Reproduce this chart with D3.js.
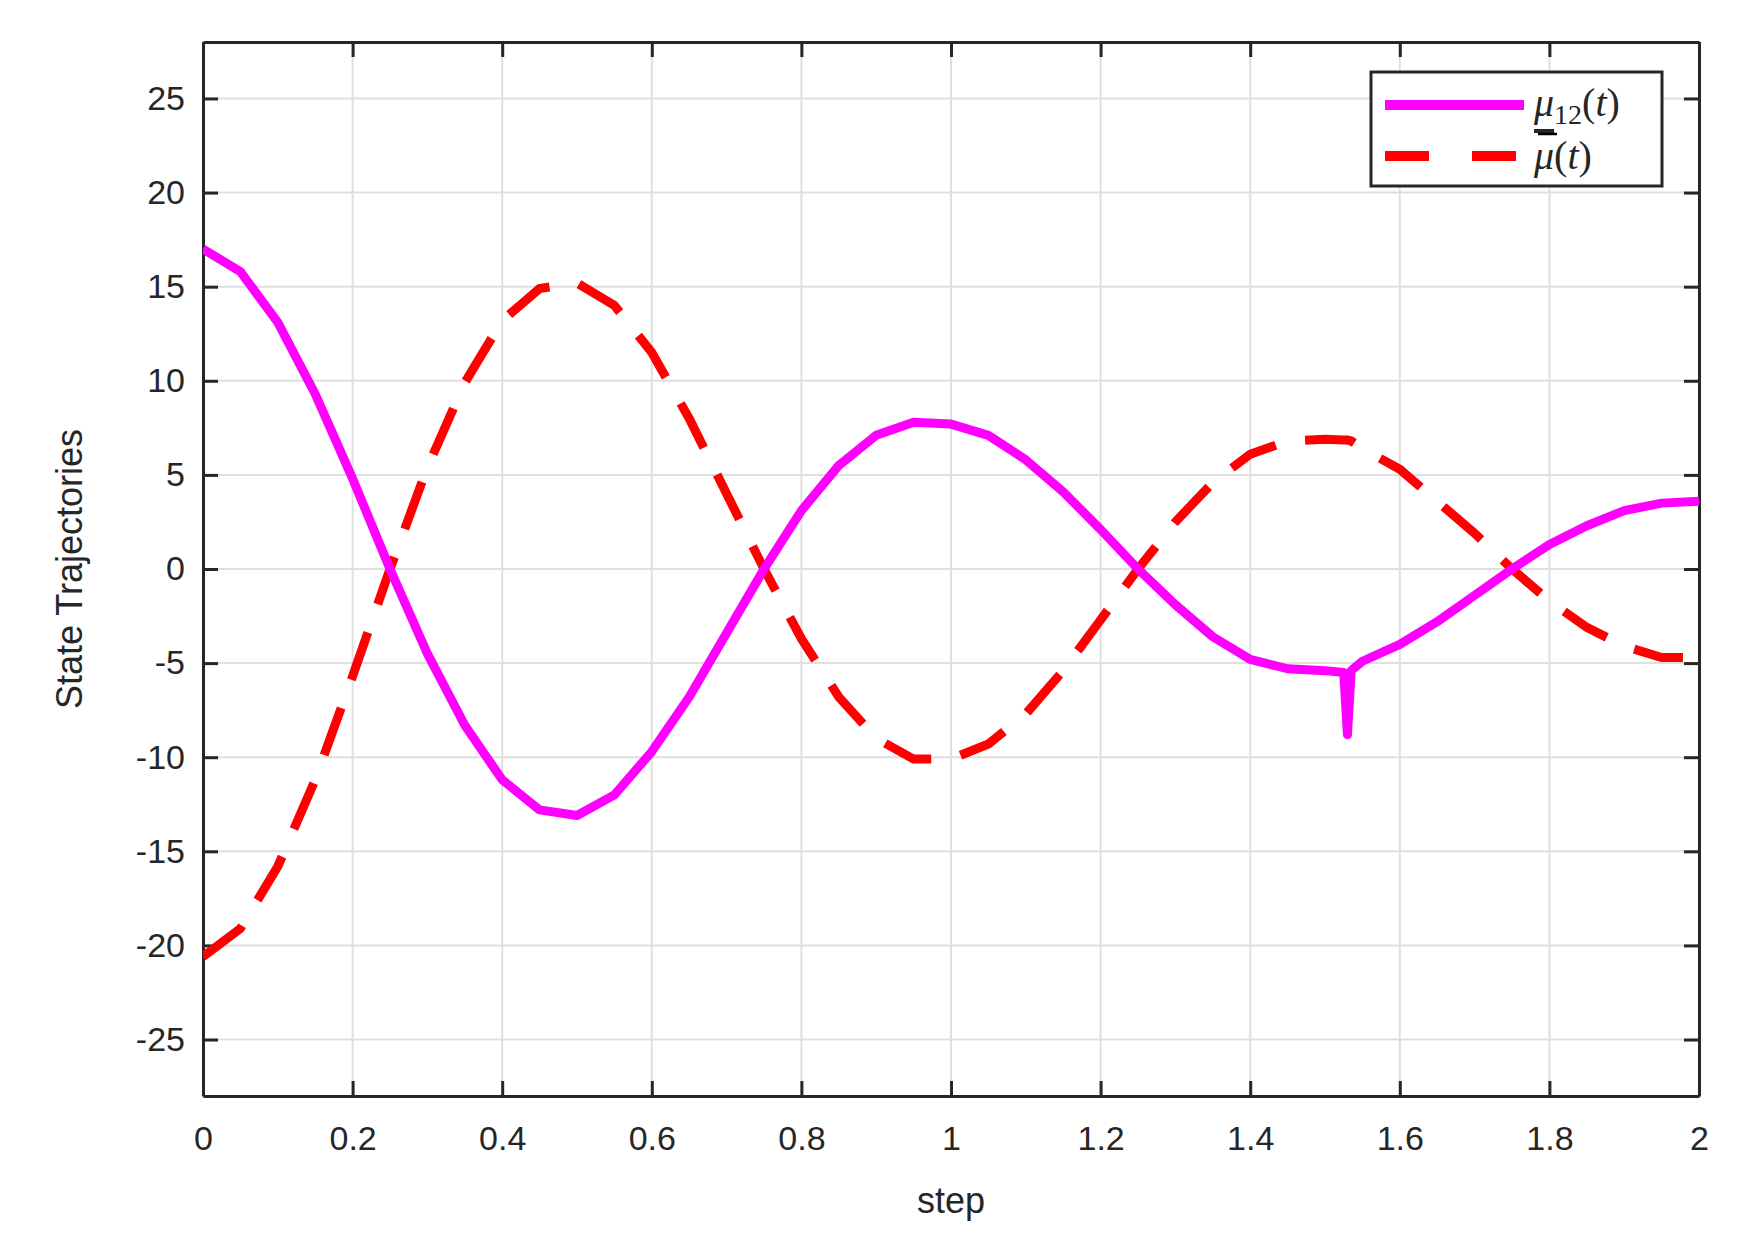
<!DOCTYPE html>
<html>
<head>
<meta charset="utf-8">
<script src="https://cdn.jsdelivr.net/npm/d3@7"></script>
<style>
  body { margin: 0; background: #fff; }
  text { font-family: "Liberation Sans", Arial, sans-serif; fill: #262626; }
</style>
</head>
<body>
<svg id="chart" width="1739" height="1252"></svg>
<script>
const steps = [0, 0.05, 0.1, 0.15, 0.2, 0.25, 0.3, 0.35, 0.4, 0.45, 0.5, 0.55, 0.6, 0.65, 0.7, 0.75,
  0.8, 0.85, 0.9, 0.95, 1.0, 1.05, 1.1, 1.15, 1.2, 1.25, 1.3, 1.35, 1.4, 1.45, 1.5, 1.525, 1.53, 1.535,
  1.55, 1.6, 1.65, 1.7, 1.75, 1.8, 1.85, 1.9, 1.95, 2.0];

const mu12 = [17.0, 15.8, 13.1, 9.3, 4.8, 0, -4.5, -8.3, -11.2, -12.8, -13.1, -12.0, -9.7, -6.8, -3.4, 0,
  3.1, 5.5, 7.1, 7.8, 7.7, 7.1, 5.8, 4.1, 2.1, 0, -1.9, -3.6, -4.8, -5.3, -5.4, -5.5, -8.8, -5.4,
  -4.9, -4.0, -2.8, -1.4, 0, 1.3, 2.3, 3.1, 3.5, 3.6];

const muBar = [-20.6, -19.1, -15.8, -11.2, -5.7, 0, 5.4, 9.9, 13.2, 14.9, 15.2, 14.0, 11.5, 8.0, 4.0, 0,
  -3.7, -6.8, -9.0, -10.1, -10.1, -9.3, -7.7, -5.4, -2.7, 0, 2.5, 4.6, 6.1, 6.8, 6.9, 6.85, 6.85, 6.8,
  6.4, 5.3, 3.6, 1.9, 0, -1.7, -3.1, -4.1, -4.7, -4.7];

const xTicks = [0, 0.2, 0.4, 0.6, 0.8, 1, 1.2, 1.4, 1.6, 1.8, 2];
const yTicks = [-25, -20, -15, -10, -5, 0, 5, 10, 15, 20, 25];

const svg = d3.select('#chart');
const m = { left: 203, right: 1699, top: 42, bottom: 1096 };

const x = d3.scaleLinear().domain([0, 2]).range([m.left, m.right]);
const y = d3.scaleLinear().domain([-28, 28]).range([m.bottom, m.top]);

// grid
const grid = svg.append('g');
grid.selectAll('.gx').data(xTicks).enter().append('line')
  .attr('x1', d => x(d)).attr('x2', d => x(d))
  .attr('y1', m.top).attr('y2', m.bottom)
  .attr('stroke', '#dfdfdf').attr('stroke-width', 2);
grid.selectAll('.gy').data(yTicks).enter().append('line')
  .attr('y1', d => y(d)).attr('y2', d => y(d))
  .attr('x1', m.left).attr('x2', m.right)
  .attr('stroke', '#dfdfdf').attr('stroke-width', 2);

// axes
const tickLen = 15;
const xAxis = svg.append('g').attr('transform', `translate(0,${m.bottom})`)
  .call(d3.axisBottom(x).tickValues(xTicks).tickFormat(d3.format('')).tickSizeInner(-tickLen).tickSizeOuter(0).tickPadding(30));
const xTop = svg.append('g').attr('transform', `translate(0,${m.top})`)
  .call(d3.axisTop(x).tickValues(xTicks).tickFormat('').tickSizeInner(-tickLen).tickSizeOuter(0));
const yAxis = svg.append('g').attr('transform', `translate(${m.left},0)`)
  .call(d3.axisLeft(y).tickValues(yTicks).tickSizeInner(-tickLen).tickSizeOuter(0).tickPadding(18));
const yRight = svg.append('g').attr('transform', `translate(${m.right},0)`)
  .call(d3.axisRight(y).tickValues(yTicks).tickFormat('').tickSizeInner(-tickLen).tickSizeOuter(0));

[xAxis, xTop, yAxis, yRight].forEach(a => {
  a.selectAll('path').attr('stroke', '#262626').attr('stroke-width', 3);
  a.selectAll('line').attr('stroke', '#262626').attr('stroke-width', 3);
  a.selectAll('text').style('font-size', '34px').attr('fill', '#262626')
    .style('font-family', '"Liberation Sans", Arial, sans-serif');
});
yAxis.selectAll('text').text(d => d < 0 ? '-' + Math.abs(d) : d);

// lines
const line = d3.line().x(d => x(d[0])).y(d => y(d[1]));
const clip = svg.append('clipPath').attr('id', 'clip').append('rect')
  .attr('x', m.left).attr('y', m.top).attr('width', m.right - m.left).attr('height', m.bottom - m.top);

svg.append('path').datum(steps.map((s, i) => [s, muBar[i]]))
  .attr('clip-path', 'url(#clip)')
  .attr('d', line).attr('fill', 'none').attr('stroke', '#ff0000')
  .attr('stroke-width', 9).attr('stroke-dasharray', '50,30');

svg.append('path').datum(steps.map((s, i) => [s, mu12[i]]))
  .attr('clip-path', 'url(#clip)')
  .attr('d', line).attr('fill', 'none').attr('stroke', '#ff00ff')
  .attr('stroke-width', 9).attr('stroke-linejoin', 'round');

// labels
svg.append('text').attr('x', (m.left + m.right) / 2).attr('y', 1213)
  .attr('text-anchor', 'middle').style('font-size', '36px').text('step');
svg.append('text').attr('transform', `translate(82,${(m.top + m.bottom) / 2}) rotate(-90)`)
  .attr('text-anchor', 'middle').style('font-size', '36px').text('State Trajectories');

// legend
const lg = svg.append('g').attr('transform', 'translate(1371,72)');
lg.append('rect').attr('width', 291).attr('height', 114)
  .attr('fill', '#fff').attr('stroke', '#262626').attr('stroke-width', 3);
lg.append('line').attr('x1', 14).attr('x2', 153).attr('y1', 33).attr('y2', 33)
  .attr('stroke', '#ff00ff').attr('stroke-width', 10);
lg.append('line').attr('x1', 14).attr('x2', 153).attr('y1', 84).attr('y2', 84)
  .attr('stroke', '#ff0000').attr('stroke-width', 10).attr('stroke-dasharray', '44,43');
const serif = '"Liberation Serif", "DejaVu Serif", serif';
const t1 = lg.append('text').attr('x', 163).attr('y', 44).style('font-family', serif).style('font-size', '40px').attr('fill', '#000');
t1.append('tspan').style('font-style', 'italic').text('μ');
t1.append('tspan').attr('dy', 8).style('font-size', '28px').text('12');
t1.append('tspan').attr('dy', -8).text('(');
t1.append('tspan').style('font-style', 'italic').text('t');
t1.append('tspan').text(')');
const t2 = lg.append('text').attr('x', 163).attr('y', 97).style('font-family', serif).style('font-size', '40px').attr('fill', '#000');
t2.append('tspan').style('font-style', 'italic').style('text-decoration', 'overline').text('μ');
t2.append('tspan').text('(');
t2.append('tspan').style('font-style', 'italic').text('t');
t2.append('tspan').text(')');
lg.append('line').attr('x1', 167).attr('x2', 186).attr('y1', 62).attr('y2', 62)
  .attr('stroke', '#000').attr('stroke-width', 2.5);
</script>
</body>
</html>
